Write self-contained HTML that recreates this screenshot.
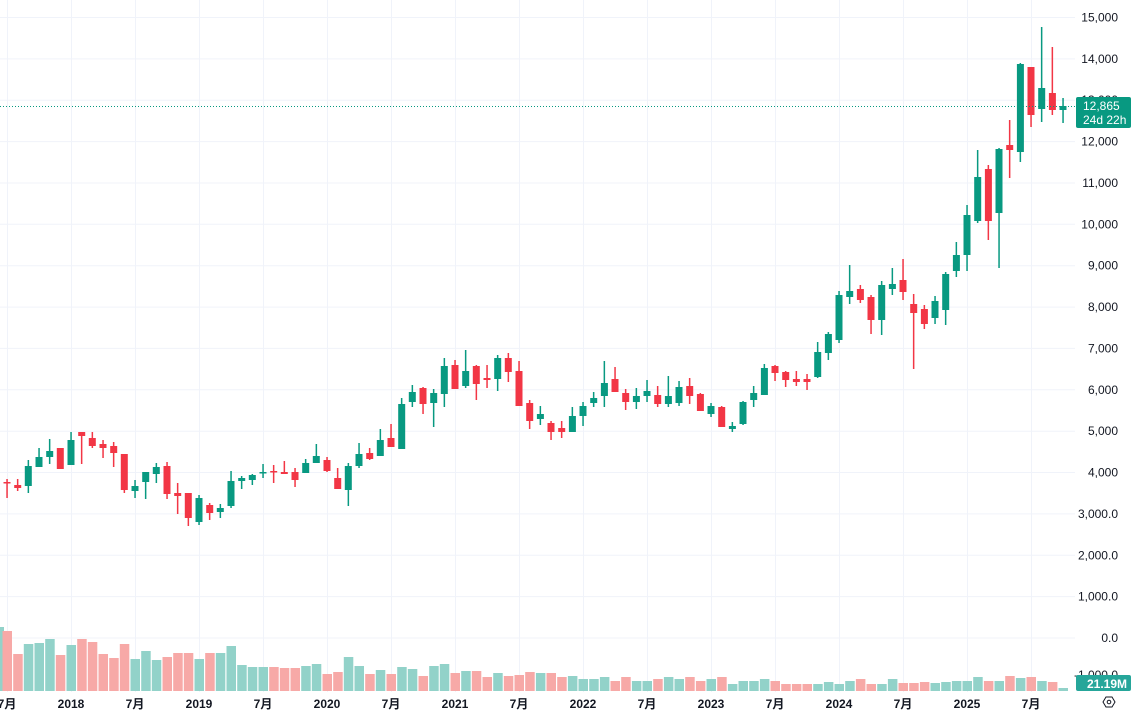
<!DOCTYPE html>
<html><head><meta charset="utf-8">
<style>
html,body{margin:0;padding:0;background:#fff;overflow:hidden}
svg{display:block}
text{font-family:"Liberation Sans","Noto Sans CJK JP",sans-serif;font-size:12px;fill:#131722}
</style></head>
<body>
<svg id="s" width="1137" height="713" xmlns="http://www.w3.org/2000/svg"></svg>
<script>
const s=document.getElementById('s');
let h='';
// grid horizontal
const levels=[[15000,'15,000'],[14000,'14,000'],[13000,'13,000'],[12000,'12,000'],[11000,'11,000'],[10000,'10,000'],[9000,'9,000'],[8000,'8,000'],[7000,'7,000'],[6000,'6,000'],[5000,'5,000'],[4000,'4,000'],[3000,'3,000.0'],[2000,'2,000.0'],[1000,'1,000.0'],[0,'0.0']];
const Y=v=>638-v*0.041367;
levels.forEach(l=>{const y=Y(l[0]).toFixed(1);h+=`<line x1="0" x2="1075" y1="${y}" y2="${y}" stroke="#f0f3fa" stroke-width="1"/>`;});
// vertical grid
const tl=[[7,'7月'],[71,'2018'],[135,'7月'],[199,'2019'],[263,'7月'],[327,'2020'],[391,'7月'],[455,'2021'],[519,'7月'],[583,'2022'],[647,'7月'],[711,'2023'],[775,'7月'],[839,'2024'],[903,'7月'],[967,'2025'],[1031,'7月']];
tl.forEach(t=>{h+=`<line x1="${t[0]+.5}" x2="${t[0]+.5}" y1="0" y2="692" stroke="#f0f3fa" stroke-width="1"/>`;});
// volume
const vol=[631,654,644,643,639,655,645,639,642,654,658,644,659,651,660,657,653,653,659,653,653,646,665,667,667,667,668,668,666,664,674,672,657,666,674,670,674,
667,669,676,666,664,673,671,671,677,673,676,675,672,673,673,677,676,679,679,677,681,677,681,681,679,677,679,677,681,679,677,684,681,681,679,681,684,684,684,684,682,684,681,679,684,684,679,683,683,682,683,682,681,681,677,681,681,676,678,677,681,682,688];
const C=[[482,483,479,498,'r'],[485,488,479,491,'r'],[466,486,460,493,'g'],[457,467,448,467,'g'],[451,457,439,464,'g'],[448,469,448,469,'r'],[440,465,432,465,'g'],[432,436,432,464,'r'],[438,446,432,448,'r'],[444,448,440,458,'r'],
[446,453,442,467,'r'],[454,490,454,493,'r'],[486,491,480,498,'g'],[472,482,472,499,'g'],[467,474,463,483,'g'],[466,494,462,499,'r'],[493,496,483,514,'r'],[493,518,493,526,'r'],[498,522,495,525,'g'],[505,513,503,520,'r'],
[508,512,504,518,'g'],[481,506,471,508,'g'],[478,481,476,489,'g'],[475,480,474,485,'g'],[472,473,464,478,'g'],[471,472,465,483,'r'],[472,474,461,474,'r'],[472,480,468,487,'r'],[463,473,459,473,'g'],[456,463,444,463,'g'],
[460,471,457,472,'r'],[478,489,468,489,'r'],[466,490,463,506,'g'],[454,466,443,468,'g'],[453,459,448,460,'r'],[440,456,429,456,'g'],[438,447,424,447,'r'],[404,449,398,449,'g'],[392,402,385,407,'g'],[388,404,387,414,'r'],
[393,403,389,427,'g'],[366,394,358,407,'g'],[365,389,360,389,'r'],[371,386,350,388,'g'],[366,384,365,400,'r'],[378,380,365,388,'r'],[358,379,355,391,'g'],[358,372,353,382,'r'],[371,406,361,406,'r'],[403,421,400,429,'r'],
[414,419,406,425,'g'],[423,432,421,440,'r'],[428,432,421,438,'r'],[416,432,407,432,'g'],[406,416,402,426,'g'],[398,403,392,407,'g'],[383,396,361,407,'g'],[379,392,367,392,'r'],[393,402,389,410,'r'],[396,402,388,409,'g'],
[391,396,380,402,'g'],[395,404,386,407,'r'],[396,404,376,407,'g'],[387,403,381,406,'g'],[386,396,378,404,'r'],[394,411,393,411,'r'],[406,414,403,417,'g'],[407,427,406,427,'r'],[426,429,422,432,'g'],[402,424,401,425,'g'],
[393,400,386,407,'g'],[368,395,364,395,'g'],[366,373,365,381,'r'],[372,380,371,387,'r'],[379,382,371,386,'r'],[379,382,374,390,'r'],[352,377,342,378,'g'],[334,353,332,360,'g'],[295,340,291,343,'g'],[291,297,265,304,'g'],
[289,300,285,303,'r'],[297,320,295,334,'r'],[285,320,281,335,'g'],[284,289,268,295,'g'],[280,292,259,300,'r'],[304,313,294,369,'r'],[309,324,305,329,'r'],[301,318,296,324,'g'],[274,310,272,325,'g'],[255,271,242,277,'g'],
[215,255,205,271,'g'],[177,221,150,223,'g'],[169,221,165,240,'r'],[149,213,148,268,'g'],[145,150,120,178,'r'],[64,152,63,162,'g'],[67,115,67,127,'r'],[88,109,27,122,'g'],[93,110,47,115,'r'],[106,110,98,123,'g']];
const X=i=>7+i*10.667;
h+=`<rect x="-1" y="627" width="5" height="64" fill="#92d2c9"/>`;
C.forEach((c,i)=>{const v=vol[i]||685;const x=X(i);h+=`<rect x="${(x-4.5).toFixed(1)}" y="${v}" width="9.5" height="${691-v}" fill="${c[4]=='g'?'#92d2c9':'#f7a9a7'}"/>`;});
C.forEach((c,i)=>{const x=X(i);const col=c[4]=='g'?'#089981':'#f23645';
h+=`<rect x="${(x-0.75).toFixed(1)}" y="${c[2]}" width="1.5" height="${c[3]-c[2]}" fill="${col}"/>`;
h+=`<rect x="${(x-3.5).toFixed(1)}" y="${c[0]}" width="7" height="${Math.max(1.5,c[1]-c[0])}" fill="${col}"/>`;});
// price line
h+=`<line x1="0" x2="1076" y1="106.5" y2="106.5" stroke="#089981" stroke-width="1" stroke-dasharray="1,2"/>`;
// price labels
levels.forEach(l=>{const y=Y(l[0]);h+=`<text x="1118" y="${(y+4).toFixed(1)}" text-anchor="end">${l[1]}</text>`;});
h+=`<text x="1118" y="679" text-anchor="end">-1,000.0</text>`;
// labels boxes
h+=`<rect x="1076" y="97" width="55" height="31" rx="2" fill="#089981"/>`;
h+=`<text x="1083" y="110" style="fill:#fff;font-size:12px">12,865</text><text x="1083" y="124" style="fill:#fff;font-size:12px">24d 22h</text>`;
h+=`<rect x="1076" y="675" width="55" height="16" rx="2" fill="#26a69a"/>`;
h+=`<text x="1127" y="688" text-anchor="end" style="fill:#fff;font-weight:bold;font-size:12px">21.19M</text>`;
// time labels
tl.forEach(t=>{h+=`<text x="${t[0]}" y="708" text-anchor="middle" style="font-weight:bold;font-size:12px">${t[1]}</text>`;});
// settings icon
h+=`<polygon points="1103,702 1106,697 1112,697 1115,702 1112,707 1106,707" fill="none" stroke="#131722" stroke-width="1"/><circle cx="1109" cy="702" r="1.8" fill="none" stroke="#131722" stroke-width="1"/>`;
s.innerHTML=h;
</script>
</body></html>
